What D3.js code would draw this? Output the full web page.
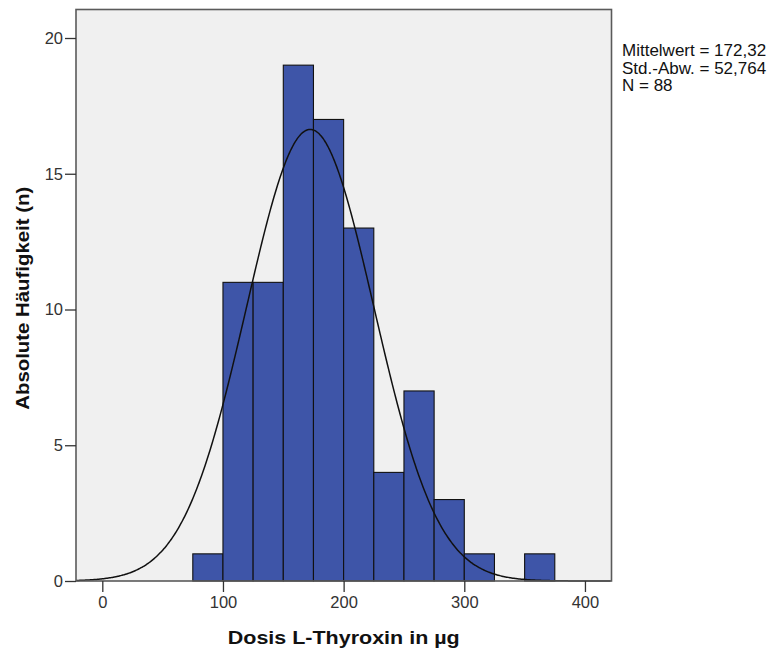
<!DOCTYPE html>
<html>
<head>
<meta charset="utf-8">
<script src="https://cdn.jsdelivr.net/npm/d3@7"></script>
<style>
  html, body { margin: 0; padding: 0; background: #fff; }
  svg { display: block; }
  text { font-family: "Liberation Sans", Arial, sans-serif; }
</style>
</head>
<body>
<svg id="chart" width="772" height="652"></svg>
<script>
// Histogram bins (lower edge, width 25 µg) and counts
const binStarts = [75, 100, 125, 150, 175, 200, 225, 250, 275, 300, 325, 350];
const binWidth = 25;
const counts = [1, 11, 11, 19, 17, 13, 4, 7, 3, 1, 0, 1];

// Summary statistics shown in the legend
const meanValue = 172.32;
const sdValue = 52.764;
const nValue = 88;
const statLines = ["Mittelwert = 172,32", "Std.-Abw. = 52,764", "N = 88"];

const xTicks = [0, 100, 200, 300, 400];
const yTicks = [0, 5, 10, 15, 20];

const plot = { left: 76, top: 9.5, right: 611.5, bottom: 581 };

const svg = d3.select("#chart");

const x = d3.scaleLinear().domain([-21.8, 422]).range([plot.left, plot.right]);
const y = d3.scaleLinear().domain([0, 21.05]).range([plot.bottom, plot.top]);

// Plot background
svg.append("rect")
  .attr("x", plot.left).attr("y", plot.top)
  .attr("width", plot.right - plot.left).attr("height", plot.bottom - plot.top)
  .attr("fill", "#f0f0f0");

// Bars
const bins = binStarts.map((s, i) => ({ x0: s, x1: s + binWidth, n: counts[i] }));
svg.append("g").selectAll("rect")
  .data(bins.filter(d => d.n > 0))
  .join("rect")
  .attr("x", d => x(d.x0))
  .attr("y", d => y(d.n))
  .attr("width", d => x(d.x1) - x(d.x0))
  .attr("height", d => y(0) - y(d.n))
  .attr("fill", "#3e55a8")
  .attr("stroke", "#111")
  .attr("stroke-width", 1.1);

// Fitted normal curve scaled to counts: N * binWidth * pdf
const pdf = v => Math.exp(-0.5 * ((v - meanValue) / sdValue) ** 2) / (sdValue * Math.sqrt(2 * Math.PI));
const curvePts = d3.range(x.domain()[0], x.domain()[1] + 0.01, 1).map(v => [v, nValue * binWidth * pdf(v)]);
svg.append("path")
  .datum(curvePts)
  .attr("fill", "none")
  .attr("stroke", "#111")
  .attr("stroke-width", 1.5)
  .attr("d", d3.line().x(d => x(d[0])).y(d => y(d[1])).curve(d3.curveBasis));

// Frame
svg.append("rect")
  .attr("x", plot.left).attr("y", plot.top)
  .attr("width", plot.right - plot.left).attr("height", plot.bottom - plot.top)
  .attr("fill", "none")
  .attr("stroke", "#5a5a5a")
  .attr("stroke-width", 1.6);

// Axes
const xAxis = svg.append("g")
  .attr("transform", `translate(0,${plot.bottom})`)
  .call(d3.axisBottom(x).tickValues(xTicks).tickSize(11).tickPadding(4).tickFormat(d3.format("d")));
const yAxis = svg.append("g")
  .attr("transform", `translate(${plot.left},0)`)
  .call(d3.axisLeft(y).tickValues(yTicks).tickSize(11).tickPadding(2).tickFormat(d3.format("d")));

[xAxis, yAxis].forEach(g => {
  g.select(".domain").remove();
  g.selectAll(".tick line").attr("stroke", "#333").attr("stroke-width", 1.3);
  g.selectAll(".tick text")
    .attr("fill", "#333")
    .style("font-size", "16.5px")
    .style("font-family", "'Liberation Sans', Arial, sans-serif");
});

// Axis titles
svg.append("text")
  .attr("x", (plot.left + plot.right) / 2)
  .attr("y", 644)
  .attr("text-anchor", "middle")
  .attr("textLength", 232)
  .attr("lengthAdjust", "spacingAndGlyphs")
  .style("font-size", "18px")
  .style("font-weight", "bold")
  .attr("fill", "#111")
  .text("Dosis L-Thyroxin in µg");

svg.append("text")
  .attr("transform", `translate(28.5,${(plot.top + plot.bottom) / 2 + 3}) rotate(-90)`)
  .attr("text-anchor", "middle")
  .attr("textLength", 223)
  .attr("lengthAdjust", "spacingAndGlyphs")
  .style("font-size", "18px")
  .style("font-weight", "bold")
  .attr("fill", "#111")
  .text("Absolute Häufigkeit (n)");

// Statistics legend
svg.append("g").selectAll("text")
  .data(statLines)
  .join("text")
  .attr("x", 622)
  .attr("y", (d, i) => 56 + i * 17.5)
  .style("font-size", "17px")
  .attr("fill", "#111")
  .text(d => d);
</script>
</body>
</html>
